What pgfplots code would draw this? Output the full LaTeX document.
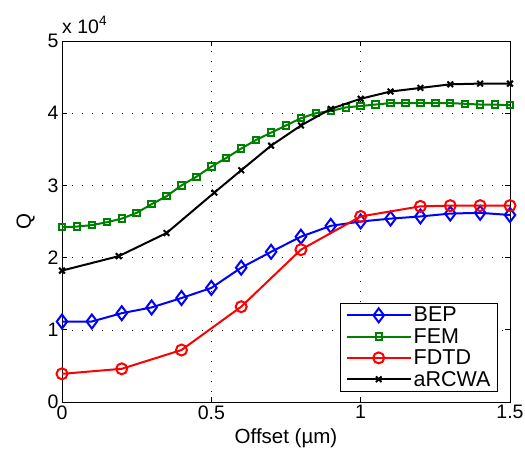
\documentclass[border=0pt]{standalone}
\usepackage{pgfplots}
\pgfplotsset{compat=1.18}
\usepackage{fontspec}
\setmainfont{Liberation Sans}
\definecolor{mgreen}{rgb}{0,0.5,0}
\begin{document}
\begin{tikzpicture}
\path[use as bounding box] (-62pt,-57pt) rectangle (463pt,402pt);
\begin{axis}[
  at={(0,0)}, anchor=south west,
  scale only axis, width=448pt, height=361pt,
  xmin=0, xmax=1.5, ymin=0, ymax=50000,
  xtick={0,0.5,1,1.5}, xticklabels={0,0.5,1,1.5},
  ytick={0,10000,20000,30000,40000,50000}, yticklabels={0,1,2,3,4,5},
  scaled y ticks=false,
  ticklabel style={font=\fontsize{19.5}{19.5}\selectfont},
  label style={font=\fontsize{20.5}{20.5}\selectfont},
  xlabel={Offset (µm)}, ylabel={Q},
  xlabel style={yshift=-2pt},
  ylabel style={yshift=6pt},
  tick align=inside, major tick length=5pt,
  grid=major,
  major grid style={black, line width=0.5pt, dash pattern=on 1pt off 9pt},
  axis line style={line width=0.9pt},
  every tick/.style={black, line width=0.7pt},
  clip mode=individual,
  legend style={at={(rel axis cs:0.973,0.028)}, anchor=south east, draw=black, line width=0.7pt, fill=white,
    font=\fontsize{21.5}{21.5}\selectfont, row sep=1pt, inner xsep=5pt, inner ysep=2pt},
  legend cell align=left,
  every axis plot/.append style={line width=2pt,
    legend image code/.code={\draw[mark repeat=2,mark phase=2] plot coordinates {(0pt,0pt) (32pt,0pt) (64pt,0pt)};}},
]
\addplot[blue, mark=diamond, mark size=7pt, mark options={solid, line width=2pt}] coordinates {
(0,11150) (0.1,11150) (0.2,12300) (0.3,13100) (0.4,14400) (0.5,15800) (0.6,18600) (0.7,20800)
(0.8,22900) (0.9,24400) (1.0,25000) (1.1,25400) (1.2,25700) (1.3,26100) (1.4,26200) (1.5,25900)};
\addlegendentry{BEP}
\addplot[mgreen, mark=square, mark size=3.2pt, mark options={solid, line width=2pt}] coordinates {
(0,24200) (0.05,24300) (0.1,24500) (0.15,24900) (0.2,25400) (0.25,26200) (0.3,27400) (0.35,28500)
(0.4,30000) (0.45,31200) (0.5,32600) (0.55,33800) (0.6,35100) (0.65,36300) (0.7,37300) (0.75,38300)
(0.8,39300) (0.85,40000) (0.9,40300) (0.95,40800) (1.0,41000) (1.05,41200) (1.1,41400) (1.15,41400)
(1.2,41400) (1.25,41400) (1.3,41400) (1.35,41300) (1.4,41200) (1.45,41200) (1.5,41100)};
\addlegendentry{FEM}
\addplot[red, mark=o, mark size=5.5pt, mark options={solid, line width=2pt}] coordinates {
(0,3900) (0.2,4600) (0.4,7200) (0.6,13200) (0.8,21100) (1.0,25700) (1.2,27100) (1.3,27200) (1.4,27200) (1.5,27200)};
\addlegendentry{FDTD}
\addplot[black, mark=x, mark size=4pt, mark options={solid, line width=2pt}] coordinates {
(0,18200) (0.19,20200) (0.35,23400) (0.51,29000) (0.6,32100) (0.7,35500) (0.8,38300) (0.9,40600)
(1.0,42000) (1.1,43000) (1.2,43500) (1.3,44000) (1.4,44100) (1.5,44100)};
\addlegendentry{aRCWA}
\node[anchor=base west, inner sep=0pt, font=\fontsize{19.5}{19.5}\selectfont] at ([yshift=8pt]rel axis cs:0,1) {x 10\textsuperscript{4}};
\end{axis}
\end{tikzpicture}
\end{document}
